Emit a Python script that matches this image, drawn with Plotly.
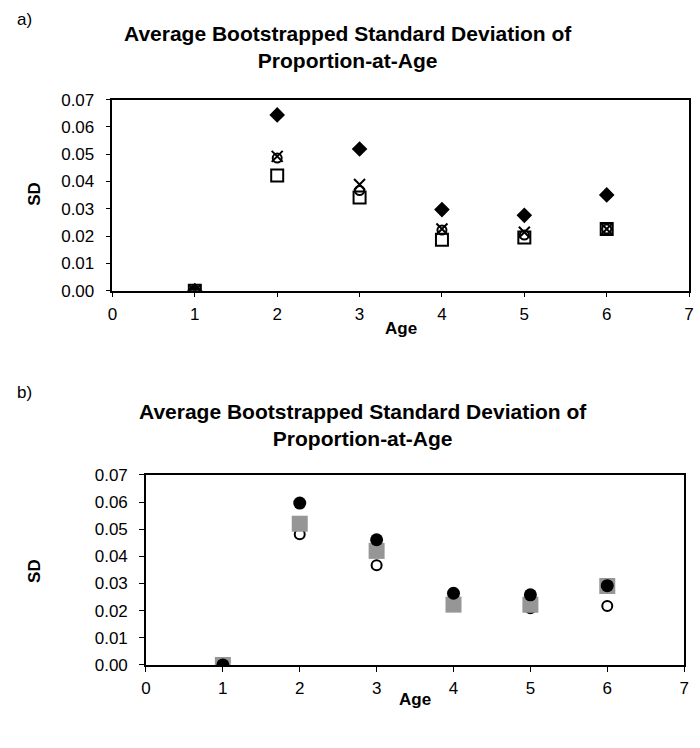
import plotly.graph_objects as go

ages = [1, 2, 3, 4, 5, 6]

# Panel a)
a_diamond = [0.0, 0.0644, 0.0519, 0.0297, 0.0276, 0.0351]
a_square = [0.0, 0.0422, 0.0341, 0.0187, 0.0195, 0.0226]
a_circle = [0.0, 0.0486, 0.0367, 0.0222, 0.0204, 0.0226]
a_cross = [0.0, 0.0492, 0.0389, 0.0226, 0.0214, 0.0226]

# Panel b)
b_open = [0.0, 0.0481, 0.0367, 0.0222, 0.0209, 0.0217]
b_grey = [0.0, 0.0520, 0.0420, 0.0222, 0.0222, 0.0291]
b_filled = [0.0, 0.0596, 0.0461, 0.0264, 0.0258, 0.0292]

x_ticks = [0, 1, 2, 3, 4, 5, 6, 7]
y_ticks = [0.0, 0.01, 0.02, 0.03, 0.04, 0.05, 0.06, 0.07]

title_text = "Average Bootstrapped Standard Deviation of<br>Proportion-at-Age"
FONT = "Liberation Sans, Arial, sans-serif"

fig = go.Figure()

def sc(x, y, xa, ya, symbol, size, color, line_color="black", line_width=0):
    fig.add_trace(go.Scatter(
        x=x, y=y, mode="markers", xaxis=xa, yaxis=ya, showlegend=False,
        marker=dict(symbol=symbol, size=size, color=color,
                    line=dict(color=line_color, width=line_width))))

# panel a
sc(ages, a_diamond, "x", "y", "diamond", 12, "black")
sc(ages, a_square, "x", "y", "square-open", 12, "black", "black", 2)
sc(ages, a_circle, "x", "y", "circle-open", 9, "black", "black", 2)
sc(ages, a_cross, "x", "y", "x-thin-open", 11, "black", "black", 2)

# panel b
sc(ages, b_open, "x2", "y2", "circle", 10, "white", "black", 2)
sc(ages, b_grey, "x2", "y2", "square", 16, "#969696")
sc(ages, b_filled, "x2", "y2", "circle", 13, "black")

axis_common = dict(showline=True, linewidth=1.5, linecolor="black", mirror=True,
                   showgrid=False, zeroline=False, ticks="outside", ticklen=5,
                   tickwidth=1, tickcolor="black",
                   tickfont=dict(family=FONT, size=17, color="black"))

fig.update_layout(
    width=700, height=748, margin=dict(l=0, r=0, t=0, b=0),
    paper_bgcolor="white", plot_bgcolor="white",
    xaxis=dict(domain=[109/700, 694/700], range=[0, 7], tickvals=x_ticks,
               anchor="y", ticklabelstandoff=2, **axis_common),
    yaxis=dict(domain=[1-289/748, 1-93/748], range=[0, 0.07], tickvals=y_ticks,
               tickformat=".2f", anchor="x", ticklabelstandoff=8, **axis_common),
    xaxis2=dict(domain=[143/700, 689/700], range=[0, 7], tickvals=x_ticks,
                anchor="y2", ticklabelstandoff=2, **axis_common),
    yaxis2=dict(domain=[1-673/748, 1-478/748], range=[0, 0.07], tickvals=y_ticks,
                tickformat=".2f", anchor="x2", ticklabelstandoff=8, **axis_common),
)

def ann(text, x, y, size, bold=False, angle=0):
    fig.add_annotation(text=f"<b>{text}</b>" if bold else text,
                       x=x/700, y=1-y/748, xref="paper", yref="paper",
                       showarrow=False, textangle=angle,
                       font=dict(family=FONT, size=size, color="black"),
                       xanchor="center", yanchor="middle", align="center")

ann(title_text, 348, 39, 21, bold=True)
ann(title_text, 363, 427, 21, bold=True)
ann("a)", 20, 11, 17)
ann("b)", 20, 394, 17)
ann("SD", 30, 190, 17, bold=True, angle=-90)
ann("SD", 30, 577, 17, bold=True, angle=-90)
ann("Age", 402, 328, 17, bold=True)
ann("Age", 416, 708, 17, bold=True)

fig.write_html("out.html")
